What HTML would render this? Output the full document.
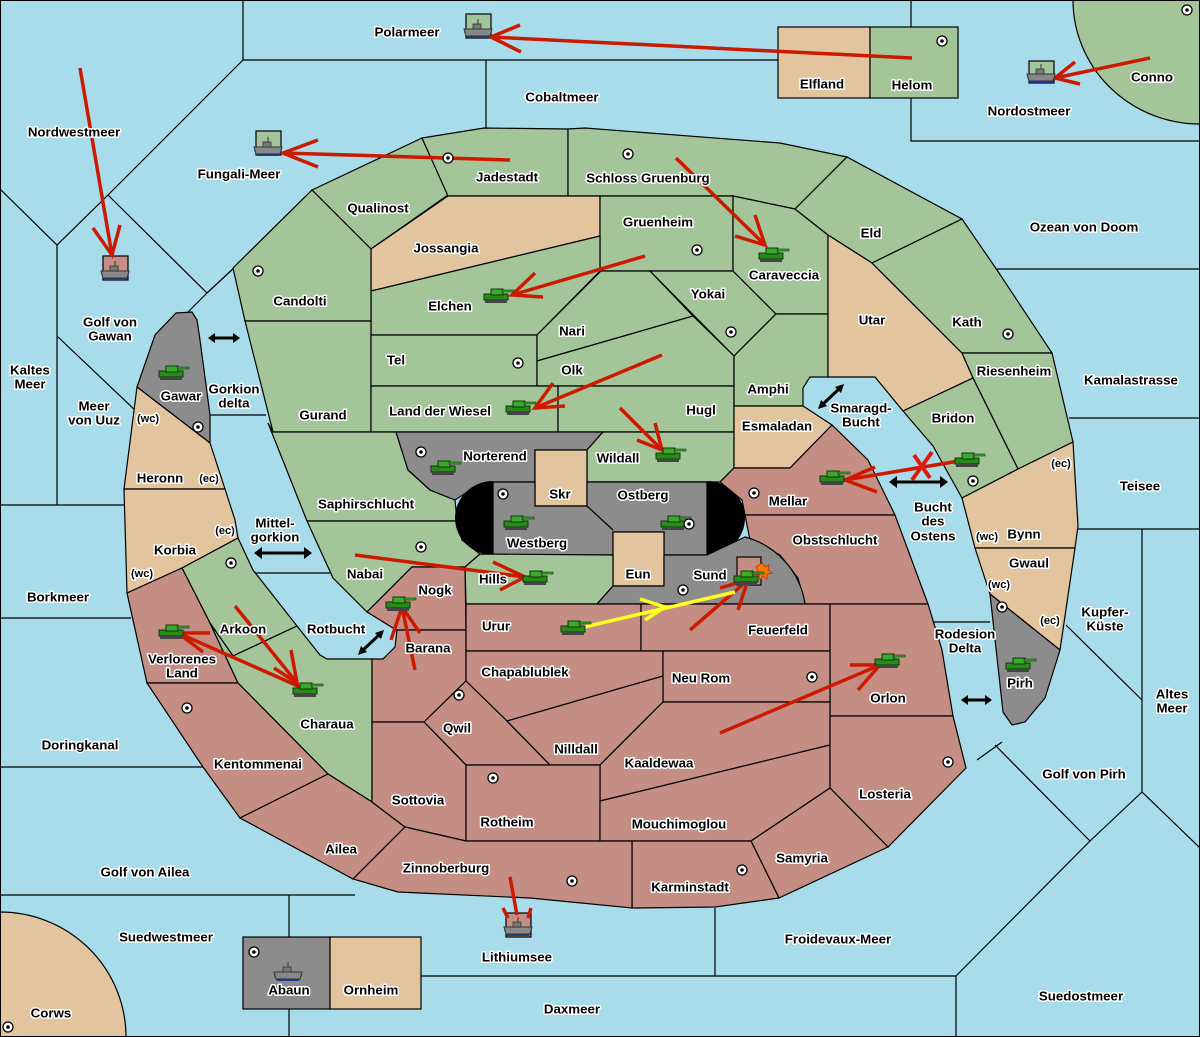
<!DOCTYPE html>
<html><head><meta charset="utf-8"><style>
html,body{margin:0;padding:0;background:#a8dcea;}
svg{display:block}
text{font-family:"Liberation Sans","DejaVu Sans",sans-serif;font-weight:bold;font-size:13.3px;fill:#000;stroke:#fff;stroke-width:3px;paint-order:stroke;stroke-linejoin:round;text-anchor:middle;dominant-baseline:central}
.g{fill:#a4c59a}.t{fill:#e2c59e}.r{fill:#c48e85}.y{fill:#8c8c8c}
polygon,rect.b{stroke:#000;stroke-width:1.2}
.l{stroke:#000;stroke-width:1.2;fill:none}
.ar{stroke:#cc1a00;stroke-width:3.5;fill:none;stroke-linecap:butt}
.da{stroke:#000;stroke-width:3;fill:none}
</style></head><body>
<svg width="1200" height="1037" viewBox="0 0 1200 1037" xmlns="http://www.w3.org/2000/svg">
<defs>
<g id="tank"><rect x="-14" y="-2" width="24" height="6" fill="#2a8a1a" stroke="#0a3a0a" stroke-width="1"/><rect x="-7" y="-7" width="12" height="6" fill="#3aaa2a" stroke="#0a3a0a" stroke-width="1"/><rect x="4" y="-6" width="12" height="2" fill="#3aaa2a" stroke="#0a3a0a" stroke-width=".6"/><rect x="-13" y="4" width="22" height="3" fill="#444"/></g>
<g id="ship"><path d="M-14,0 L14,0 L11,6 L-11,6 Z" fill="#1a3a9a"/><path d="M-14,-3 L14,-3 L12,4 L-12,4 Z" fill="#888" stroke="#333" stroke-width="1"/><rect x="-5" y="-8" width="8" height="5" fill="#777" stroke="#333" stroke-width=".8"/><line x1="0" y1="-13" x2="0" y2="-8" stroke="#333"/></g>
<g id="sc"><circle r="5" fill="#fff" stroke="#000" stroke-width="1.3"/><circle r="1.8" fill="#000"/></g>
</defs>
<rect width="1200" height="1037" fill="#a8dcea"/>
<path class="l" d="M243,0V60H778 M486,60V128 M911,0V27 M911,98V141H1200 M243,60L108,195L57,245L0,189 M57,245V505 M108,195L207,293L235,267 M188,312L207,293 M57,336L137,412 M0,505H128 M0,618H131 M0,767H203 M210,415H266 M255,573H330 M997,269H1200 M1069,418H1200 M1077,529H1200 M1142,529V792 M1066,625L1142,700 M1142,792L1200,848 M1142,792L1090,841 M995,745L1090,841 M1002,742L977,760 M1090,841L956,976V1037 M956,976H421 M715,908V976 M0,895H355 M289,895V1037 M933,622H990"/>
<path class="g" d="M1073,0 A127,124 0 0 0 1200,124 V0 Z" stroke="#000" stroke-width="1.2"/>
<path class="t" d="M0,912 A126,125 0 0 1 126,1037 H0 Z" stroke="#000" stroke-width="1.2"/>
<rect class="b t" x="778" y="27" width="92" height="71"/><rect class="b g" x="870" y="27" width="88" height="71"/>
<rect class="b y" x="243" y="937" width="87" height="72"/><rect class="b t" x="330" y="937" width="91" height="72"/>
<rect class="b g" x="466" y="14" width="25" height="24"/><rect class="b g" x="256" y="131" width="25" height="24"/><rect class="b g" x="1029" y="61" width="25" height="22"/><rect class="b r" x="103" y="256" width="25" height="24"/><rect class="b r" x="506" y="913" width="25" height="24"/>

<polygon class="g" points="312,190 422,138 448,195 371,249"/>
<polygon class="g" points="422,138 484,128 568,129 568,196 448,196"/>
<polygon class="g" points="568,129 585,128 780,143 847,157 795,209 733,196 568,196"/>
<polygon class="t" points="448,196 600,196 600,236 371,291 371,249"/>
<polygon class="g" points="600,196 733,196 733,271 600,271"/>
<polygon class="g" points="371,291 600,236 600,271 537,335 371,335"/>
<polygon class="g" points="233,268 312,190 371,249 371,321 245,321"/>
<polygon class="g" points="245,321 371,321 371,432 273,432"/>
<polygon class="g" points="371,335 537,335 537,386 371,386"/>
<polygon class="g" points="537,335 601,271 650,271 693,316 537,361"/>
<polygon class="g" points="650,271 733,271 776,314 734,356"/>
<polygon class="g" points="733,196 795,209 828,235 828,314 776,314 733,271"/>
<polygon class="g" points="537,361 693,316 734,356 734,386 537,386"/>
<polygon class="g" points="371,386 558,386 558,432 371,432"/>
<polygon class="g" points="558,386 734,386 734,432 558,432"/>
<polygon class="g" points="734,356 776,314 828,314 828,377 810,377 803,388 803,406 734,406"/>
<polygon class="g" points="795,209 847,157 962,219 872,263 828,235"/>
<polygon class="t" points="828,235 872,263 962,353 973,378 903,411 875,377 828,377"/>
<polygon class="g" points="872,263 962,219 997,270 1052,353 962,353"/>
<polygon class="g" points="962,353 1052,353 1073,442 1018,469 973,378"/>
<polygon class="g" points="903,411 973,378 1018,469 962,498 933,446"/>
<polygon class="t" points="962,498 1018,469 1073,442 1078,526 1075,548 975,548"/>
<polygon class="t" points="975,548 1075,548 1060,650 990,594"/>
<polygon class="y" points="990,594 1060,650 1045,698 1025,722 1012,725 1003,712"/>
<polygon class="y" points="137,387 155,335 176,313 192,312 197,320 200,340 210,415 210,443"/>
<polygon class="t" points="137,387 210,443 225,489 124,489"/>
<polygon class="t" points="124,489 225,489 235,520 238,538 182,568 127,593"/>
<polygon class="g" points="182,568 238,538 253,570 297,626 233,656 210,623"/>
<polygon class="r" points="127,593 182,568 210,623 238,683 147,683"/>
<polygon class="g" points="233,656 297,626 320,655 327,659 372,659 372,802 328,774 238,683 210,623"/>
<polygon class="r" points="147,683 238,683 328,774 240,818 203,767"/>
<polygon class="r" points="240,818 328,774 372,802 405,827 353,879"/>
<polygon class="g" points="268,423 273,432 396,432 408,470 430,490 455,500 457,521 307,521"/>
<polygon class="g" points="307,521 457,521 462,540 480,554 465,567 412,567 367,612 333,578"/>
<polygon class="y" points="396,432 603,432 587,450 535,450 535,482 493,482 480,484 455,500 430,490 408,470"/>
<polygon class="g" points="603,432 734,432 734,468 720,482 587,482 587,450"/>
<rect class="b t" x="535" y="450" width="52" height="56"/>
<polygon class="y" points="493,482 535,482 535,506 587,506 587,482 707,482 707,555 664,555 664,532 613,532 613,555 493,555"/>
<line class="l" x1="587" y1="506" x2="613" y2="530"/>
<rect class="b t" x="613" y="532" width="51" height="54"/>
<path d="M493,481 A38,37 0 0 0 493,555 Z" fill="#000"/>
<path d="M707,481 A38,37 0 0 1 707,555 Z" fill="#000"/>
<polygon class="g" points="465,567 480,554 613,555 613,586 597,604 466,604"/>
<polygon class="r" points="412,567 465,567 466,630 397,630 393,628 367,612"/>
<polygon class="r" points="397,630 466,630 466,681 424,722 372,722 372,659 383,659 395,647"/>
<polygon class="t" points="734,406 803,406 832,425 790,468 734,468"/>
<polygon class="r" points="734,468 790,468 832,425 868,460 895,515 745,515 742,500 720,482"/>
<polygon class="r" points="745,515 895,515 928,604 805,604 798,578 780,555 750,540"/>
<path d="M707,555 L745,537 C775,545 800,570 805,604 L597,604 L613,586 L664,586 L664,555 Z" fill="#8c8c8c" stroke="#000" stroke-width="1.2"/>
<rect class="b r" x="737" y="557" width="24" height="28"/>
<polygon class="r" points="466,604 641,604 641,651 466,651"/>
<polygon class="r" points="641,604 830,604 830,651 641,651"/>
<polygon class="r" points="830,604 928,604 942,650 953,716 830,716"/>
<polygon class="r" points="466,651 663,651 663,676 507,721 466,681"/>
<polygon class="r" points="663,651 830,651 830,702 663,702"/>
<polygon class="r" points="466,681 507,721 550,765 466,765 424,722"/>
<polygon class="r" points="507,721 663,676 663,702 600,765 550,765"/>
<polygon class="r" points="663,702 830,702 830,745 600,801 600,765"/>
<polygon class="r" points="372,722 424,722 466,765 466,841 405,827 372,802"/>
<polygon class="r" points="466,765 600,765 600,841 466,841"/>
<polygon class="r" points="600,801 830,745 830,788 751,841 600,841"/>
<polygon class="r" points="830,716 953,716 966,768 888,847 830,788"/>
<polygon class="r" points="830,788 888,847 779,898 751,841"/>
<polygon class="r" points="632,841 751,841 779,898 715,907 632,908"/>
<polygon class="r" points="353,879 405,827 466,841 632,841 632,908 530,898 398,892"/>

<g class="da"><path d="M212,338H236"/><path d="M258,553H308"/><path d="M362,651L380,634"/><path d="M822,405L840,388"/><path d="M893,482H944"/><path d="M965,700H988"/></g>
<g fill="#000"><path d="M208,338l7,-5v10z"/><path d="M240,338l-7,-5v10z"/><path d="M254,553l8,-6v12z"/><path d="M312,553l-8,-6v12z"/><path d="M358,655l3,-9l6,6z"/><path d="M384,630l-3,9l-6,-6z"/><path d="M818,409l3,-9l6,6z"/><path d="M844,384l-3,9l-6,-6z"/><path d="M889,482l8,-6v12z"/><path d="M948,482l-8,-6v12z"/><path d="M961,700l7,-5v10z"/><path d="M992,700l-7,-5v10z"/></g>

<g class="ar">
<path d="M912,58L491,37 M520,25L491,37L521,52"/>
<path d="M1150,58L1055,78 M1075,62L1055,78L1080,84"/>
<path d="M80,68L112,255 M93,228L112,255L120,225"/>
<path d="M510,160L283,153 M318,140L283,153L318,167"/>
<path d="M676,158L765,245 M755,215L765,245L735,236"/>
<path d="M645,256L512,295 M535,273L512,295L543,297"/>
<path d="M662,355L535,408 M553,383L535,408L565,406"/>
<path d="M620,408L662,450 M655,423L662,450L637,440"/>
<path d="M355,555L525,577 M493,562L525,577L500,590"/>
<path d="M415,670L402,607 M391,640L402,607L420,633"/>
<path d="M235,606L297,683 M291,650L297,683L274,668"/>
<path d="M307,690L178,633 M210,633L178,633L203,652"/>
<path d="M690,630L748,580 M720,588L748,580L738,610"/>
<path d="M720,733L880,665 M850,665L880,665L858,690"/>
<path d="M510,877L517,915 M503,908L508,918 M531,908L528,918"/>
<path d="M965,460L845,480 M875,467L845,480L877,492"/>
</g>
<path d="M580,628L735,592 M640,599L665,607L645,620" stroke="#ffff22" stroke-width="3.5" fill="none"/>
<path d="M914,455L930,478 M932,452L912,480" stroke="#dd1a10" stroke-width="4"/>
<path d="M762,563l3,4l4,-2l-1,5l4,3l-5,1l0,5l-4,-3l-3,4l-1,-5l-5,-1l4,-3l-2,-4z" fill="#ff7700" stroke="#c03000" stroke-width=".8"/>

<g>
<use href="#tank" x="173" y="373"/><use href="#tank" x="445" y="468"/><use href="#tank" x="498" y="296"/><use href="#tank" x="520" y="408"/><use href="#tank" x="670" y="455"/><use href="#tank" x="773" y="255"/><use href="#tank" x="518" y="523"/><use href="#tank" x="675" y="523"/><use href="#tank" x="537" y="578"/><use href="#tank" x="400" y="604"/><use href="#tank" x="173" y="632"/><use href="#tank" x="307" y="690"/><use href="#tank" x="575" y="628"/><use href="#tank" x="748" y="578"/><use href="#tank" x="834" y="478"/><use href="#tank" x="969" y="460"/><use href="#tank" x="889" y="661"/><use href="#tank" x="1020" y="665"/>
<use href="#ship" x="478" y="32"/><use href="#ship" x="268" y="150"/><use href="#ship" x="1041" y="77"/><use href="#ship" x="115" y="274"/><use href="#ship" x="518" y="930"/><use href="#ship" x="288" y="975"/>
</g>
<g>
<use href="#sc" x="942" y="41"/><use href="#sc" x="448" y="158"/><use href="#sc" x="628" y="154"/><use href="#sc" x="697" y="250"/><use href="#sc" x="258" y="271"/><use href="#sc" x="518" y="363"/><use href="#sc" x="731" y="332"/><use href="#sc" x="1008" y="334"/><use href="#sc" x="198" y="427"/><use href="#sc" x="421" y="452"/><use href="#sc" x="503" y="494"/><use href="#sc" x="754" y="493"/><use href="#sc" x="689" y="524"/><use href="#sc" x="421" y="547"/><use href="#sc" x="231" y="563"/><use href="#sc" x="973" y="481"/><use href="#sc" x="1002" y="607"/><use href="#sc" x="683" y="590"/><use href="#sc" x="459" y="695"/><use href="#sc" x="812" y="677"/><use href="#sc" x="187" y="708"/><use href="#sc" x="493" y="778"/><use href="#sc" x="948" y="762"/><use href="#sc" x="572" y="881"/><use href="#sc" x="742" y="870"/><use href="#sc" x="254" y="952"/><use href="#sc" x="8" y="1027"/><use href="#sc" x="1187" y="10"/>
</g>

<g>
<text x="407" y="32">Polarmeer</text><text x="562" y="97">Cobaltmeer</text><text x="822" y="84">Elfland</text><text x="912" y="85">Helom</text><text x="1029" y="111">Nordostmeer</text><text x="1152" y="77">Conno</text>
<text x="74" y="132">Nordwestmeer</text><text x="239" y="174">Fungali-Meer</text><text x="507" y="177">Jadestadt</text><text x="648" y="178">Schloss Gruenburg</text><text x="378" y="208">Qualinost</text><text x="446" y="248">Jossangia</text><text x="658" y="222">Gruenheim</text><text x="871" y="233">Eld</text><text x="1084" y="227">Ozean von Doom</text><text x="784" y="275">Caraveccia</text><text x="300" y="301">Candolti</text><text x="450" y="306">Elchen</text><text x="708" y="294">Yokai</text>
<text x="110" y="322">Golf von</text><text x="110" y="336">Gawan</text><text x="872" y="320">Utar</text><text x="967" y="322">Kath</text><text x="572" y="331">Nari</text><text x="30" y="370">Kaltes</text><text x="30" y="384">Meer</text><text x="396" y="360">Tel</text><text x="572" y="370">Olk</text><text x="1014" y="371">Riesenheim</text><text x="1131" y="380">Kamalastrasse</text><text x="768" y="389">Amphi</text><text x="181" y="396">Gawar</text><text x="234" y="389">Gorkion</text><text x="234" y="403">delta</text><text x="94" y="406">Meer</text><text x="94" y="420">von Uuz</text><text x="323" y="415">Gurand</text><text x="440" y="411">Land der Wiesel</text><text x="701" y="410">Hugl</text><text x="861" y="408">Smaragd-</text><text x="861" y="422">Bucht</text><text x="953" y="418">Bridon</text><text x="777" y="426">Esmaladan</text>
<text x="148" y="419" style="font-size:11px">(wc)</text><text x="495" y="456">Norterend</text><text x="618" y="458">Wildall</text><text x="160" y="478">Heronn</text><text x="209" y="479" style="font-size:11px">(ec)</text><text x="1061" y="464" style="font-size:11px">(ec)</text><text x="1140" y="486">Teisee</text><text x="560" y="494">Skr</text><text x="643" y="495">Ostberg</text><text x="788" y="501">Mellar</text><text x="366" y="504">Saphirschlucht</text><text x="933" y="507">Bucht</text><text x="933" y="521">des</text><text x="933" y="536">Ostens</text><text x="537" y="543">Westberg</text><text x="1024" y="534">Bynn</text><text x="987" y="537" style="font-size:11px">(wc)</text><text x="835" y="540">Obstschlucht</text><text x="275" y="523">Mittel-</text><text x="275" y="537">gorkion</text><text x="225" y="531" style="font-size:11px">(ec)</text><text x="175" y="550">Korbia</text><text x="1029" y="563">Gwaul</text><text x="142" y="574" style="font-size:11px">(wc)</text><text x="365" y="574">Nabai</text><text x="638" y="574">Eun</text><text x="710" y="575">Sund</text><text x="493" y="579">Hills</text><text x="999" y="585" style="font-size:11px">(wc)</text><text x="435" y="590">Nogk</text><text x="58" y="597">Borkmeer</text><text x="1105" y="612">Kupfer-</text><text x="1105" y="626">Küste</text><text x="496" y="626">Urur</text><text x="1050" y="621" style="font-size:11px">(ec)</text><text x="336" y="629">Rotbucht</text><text x="243" y="629">Arkoon</text><text x="778" y="630">Feuerfeld</text><text x="965" y="634">Rodesion</text><text x="965" y="648">Delta</text><text x="428" y="648">Barana</text><text x="182" y="659">Verlorenes</text><text x="182" y="673">Land</text><text x="525" y="672">Chapablublek</text><text x="701" y="678">Neu Rom</text><text x="1020" y="683">Pirh</text><text x="1172" y="694">Altes</text><text x="1172" y="708">Meer</text><text x="888" y="698">Orlon</text><text x="327" y="724">Charaua</text><text x="457" y="728">Qwil</text><text x="80" y="745">Doringkanal</text><text x="576" y="749">Nilldall</text><text x="659" y="763">Kaaldewaa</text><text x="258" y="764">Kentommenai</text><text x="1084" y="774">Golf von Pirh</text><text x="885" y="794">Losteria</text><text x="418" y="800">Sottovia</text><text x="507" y="822">Rotheim</text><text x="679" y="824">Mouchimoglou</text><text x="341" y="849">Ailea</text><text x="802" y="858">Samyria</text><text x="446" y="868">Zinnoberburg</text><text x="145" y="872">Golf von Ailea</text><text x="690" y="887">Karminstadt</text><text x="166" y="937">Suedwestmeer</text><text x="838" y="939">Froidevaux-Meer</text><text x="517" y="957">Lithiumsee</text><text x="289" y="990">Abaun</text><text x="371" y="990">Ornheim</text><text x="1081" y="996">Suedostmeer</text><text x="572" y="1009">Daxmeer</text><text x="51" y="1013">Corws</text>
</g>
<rect x="0.5" y="0.5" width="1199" height="1036" fill="none" stroke="#000"/>
</svg>
</body></html>
